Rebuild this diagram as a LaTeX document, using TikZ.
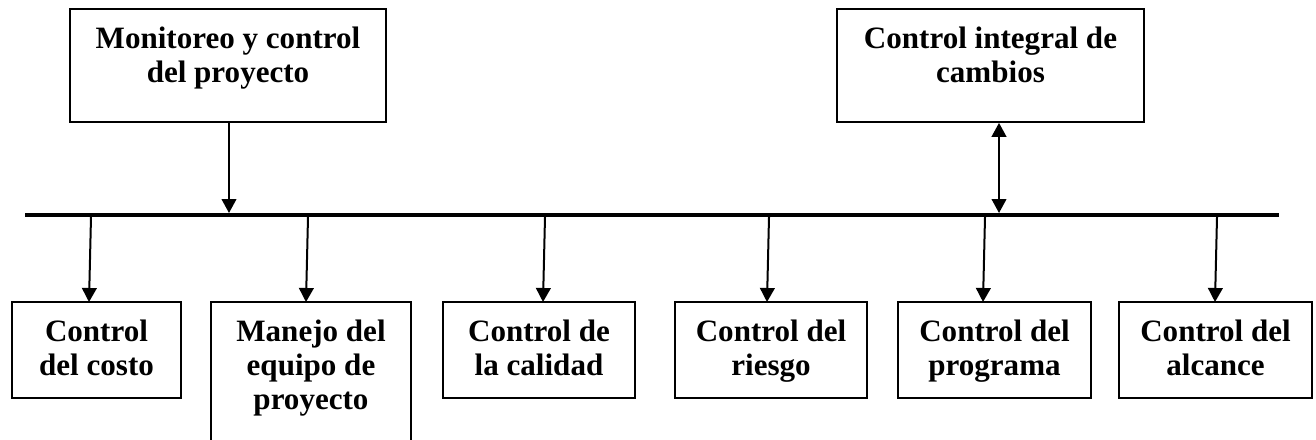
\documentclass[tikz,border=0pt]{standalone}
\usepackage{fontspec}
\setmainfont{Liberation Serif}
\usetikzlibrary{arrows.meta,calc}
\begin{document}
\begin{tikzpicture}[x=0.75pt,y=-0.75pt,
  box/.style={draw,line width=1.3pt,inner sep=0pt,minimum height=72pt},
  lbl/.style={align=center,inner sep=0pt,anchor=north,font=\bfseries\fontsize{23.3}{25.5}\selectfont},
  tip/.tip={Triangle[length=10.5pt,width=11pt]},
  conn/.style={line width=1.5pt,-tip},
  bar/.style={line width=3pt}]
\useasboundingbox (0,0) rectangle (1316,439);
\clip (0,0) rectangle (1316,439);
% top boxes
\node[box,minimum width=237pt,minimum height=84.75pt] (mon) at (228,65.5) {};
\node[box,minimum width=230.25pt,minimum height=84.75pt] (cic) at (990.5,65.5) {};
\node[lbl] (tmon) at ($(mon.north)+(0,19)$) {Monitoreo y control\\del proyecto};
\node[lbl] (tcic) at ($(cic.north)+(0,19)$) {Control integral de\\cambios};
% bar
\coordinate (barL) at (25,215);
\coordinate (barR) at (1279,215);
\draw[bar] (barL) -- (barR);
% bottom boxes
\node[box,minimum width=126.75pt] (costo) at (96.5,350) {};
\node[box,minimum width=150pt,minimum height=126pt] (equipo) at (311,386) {};
\node[box,minimum width=144pt] (calidad) at (539,350) {};
\node[box,minimum width=144pt] (riesgo) at (771,350) {};
\node[box,minimum width=144.75pt] (programa) at (994.5,350) {};
\node[box,minimum width=144.75pt] (alcance) at (1215.5,350) {};
\node[lbl] (tcosto) at ($(costo.north)+(0,19)$) {Control\\del costo};
\node[lbl] (tequipo) at ($(equipo.north)+(0,19)$) {Manejo del\\equipo de\\proyecto};
\node[lbl] (tcalidad) at ($(calidad.north)+(0,19)$) {Control de\\la calidad};
\node[lbl] (triesgo) at ($(riesgo.north)+(0,19)$) {Control del\\riesgo};
\node[lbl] (tprograma) at ($(programa.north)+(0,19)$) {Control del\\programa};
\node[lbl] (talcance) at ($(alcance.north)+(0,19)$) {Control del\\alcance};
% bar points
\coordinate (m1) at (229,213);
\coordinate (m2) at (999,213);
\coordinate (s1) at (91,217);
\coordinate (s2) at (308,217);
\coordinate (s3) at (545,217);
\coordinate (s4) at (769,217);
\coordinate (s5) at (985,217);
\coordinate (s6) at (1217,217);
\coordinate (e1) at (89,302);
\coordinate (e2) at (306,302);
\coordinate (e3) at (543,302);
\coordinate (e4) at (767,302);
\coordinate (e5) at (983,302);
\coordinate (e6) at (1215,302);
% connectors
\draw[conn] (mon.south -| m1) -- (m1);
\draw[conn,tip-tip] (cic.south -| m2) -- (m2);
\draw[conn] (s1) -- (e1);
\draw[conn] (s2) -- (e2);
\draw[conn] (s3) -- (e3);
\draw[conn] (s4) -- (e4);
\draw[conn] (s5) -- (e5);
\draw[conn] (s6) -- (e6);
\end{tikzpicture}
\end{document}
